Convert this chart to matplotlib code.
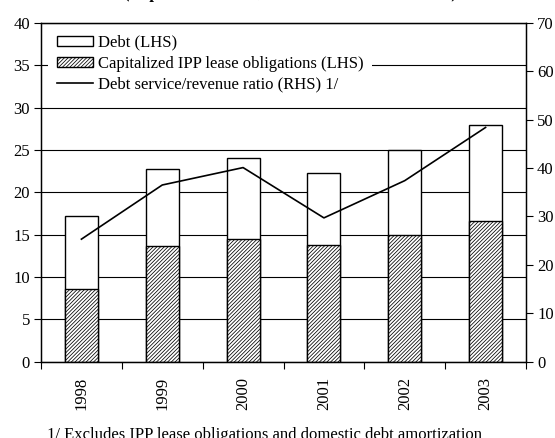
import matplotlib
matplotlib.use("Agg")
import matplotlib.pyplot as plt
import numpy as np

plt.rcParams['font.family'] = ['Liberation Serif', 'DejaVu Serif']
plt.rcParams['hatch.linewidth'] = 0.55

years = ["1998", "1999", "2000", "2001", "2002", "2003"]
debt = [17.2, 22.7, 24.1, 22.3, 25.0, 28.0]            # LHS
ipp_leases = [8.6, 13.6, 14.5, 13.8, 14.9, 16.6]       # LHS
debt_service_ratio = [25.3, 36.5, 40.1, 29.7, 37.4, 48.4]  # RHS

fs = 12
fig = plt.figure(figsize=(5.55, 4.38), dpi=100)
ax = fig.add_axes([41 / 555, (438 - 361.5) / 438, 485 / 555, 338.5 / 438])

x = np.arange(len(years))
w = 0.41
ax.bar(x, debt, width=w, color='white', edgecolor='black', linewidth=1.0,
       label='Debt (LHS)', zorder=1)
ax.bar(x, ipp_leases, width=w, color='white', edgecolor='black', linewidth=1.0,
       hatch='/' * 9, label='Capitalized IPP lease obligations (LHS)', zorder=1.1)

ax.set_xlim(-0.5, len(years) - 0.5)
ax.set_ylim(0, 40)
ax.set_yticks(np.arange(0, 41, 5))
ax.yaxis.grid(True, color='black', linewidth=0.8)
ax.set_axisbelow(True)
ax.set_xticks(x)
ax.set_xticklabels(years, rotation=90, fontsize=fs)
ax.set_xticks(np.arange(-0.5, len(years), 1), minor=True)
ax.tick_params(axis='x', which='major', length=0, pad=11)
ax.tick_params(axis='x', which='minor', length=5, direction='out', width=0.8)
ax.tick_params(axis='y', length=5, direction='out', labelsize=fs, width=0.8, pad=3)
for s in ax.spines.values():
    s.set_linewidth(1.0)

ax2 = ax.twinx()
ax2.plot(x, debt_service_ratio, color='black', linewidth=1.2,
         label='Debt service/revenue ratio (RHS) 1/')
ax2.set_ylim(0, 70)
ax2.set_yticks(np.arange(0, 71, 10))
ax2.tick_params(axis='y', length=5, direction='out', labelsize=fs, width=0.8, pad=3)

h1, l1 = ax.get_legend_handles_labels()
h2, l2 = ax2.get_legend_handles_labels()
leg = ax.legend(h1 + h2, l1 + l2, loc='upper left', bbox_to_anchor=(0.015, 0.99),
                fontsize=fs, frameon=True, fancybox=False, edgecolor='none',
                facecolor='white', framealpha=1.0, handlelength=2.2,
                handleheight=0.55, handletextpad=0.3, labelspacing=0.3,
                borderpad=0.5, borderaxespad=0.0)
leg.set_zorder(2)

fig.text(0.523, 1.0 + 2 / 438, "(In percent of GDP, unless otherwise indicated)",
         ha='center', va='baseline', fontsize=fs, fontweight='bold')
fig.text(47 / 555, -0.002, "1/ Excludes IPP lease obligations and domestic debt amortization",
         ha='left', va='baseline', fontsize=fs)

fig.savefig("out.png", dpi=100)
